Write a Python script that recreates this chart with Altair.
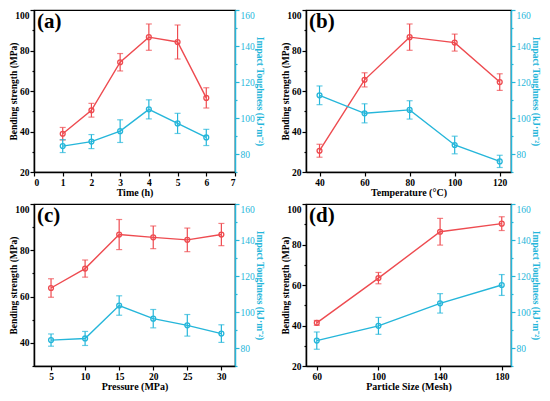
import altair as alt
import pandas as pd

FONT = "Liberation Serif"
RED = "#EE4B50"
CYAN = "#25B6DA"

# ---- panel (a): Time (h)
a_x = [1, 2, 3, 4, 5, 6]
a_bs = [38.9, 50.5, 74.2, 86.6, 84.2, 56.6]
a_bs_err = [3.1, 3.4, 4.3, 6.5, 8.4, 5.0]
a_it = [84.4, 86.9, 92.7, 104.8, 97.0, 89.2]
a_it_err = [3.6, 3.9, 6.3, 5.3, 5.6, 4.5]

# ---- panel (b): Temperature
b_x = [40, 60, 80, 100, 120]
b_bs = [30.5, 65.5, 86.6, 83.9, 64.4]
b_bs_err = [3.2, 3.5, 6.5, 4.2, 4.1]
b_it = [112.6, 102.6, 104.5, 85.0, 75.9]
b_it_err = [5.2, 5.3, 5.1, 4.9, 3.4]

# ---- panel (c): Pressure
c_x = [5, 10, 15, 20, 25, 30]
c_bs = [63.7, 72.1, 86.8, 85.6, 84.5, 86.8]
c_bs_err = [4.0, 3.7, 6.5, 4.9, 5.1, 4.8]
c_it = [84.4, 85.3, 103.6, 96.3, 92.6, 88.0]
c_it_err = [3.4, 3.9, 5.4, 5.1, 6.0, 4.9]

# ---- panel (d): Particle size
d_x = [60, 100, 140, 180]
d_bs = [41.3, 63.4, 86.3, 90.3]
d_bs_err = [1.2, 2.8, 6.6, 3.4]
d_it = [84.1, 92.3, 104.8, 115.0]
d_it_err = [4.8, 4.7, 5.4, 5.8]

LEFT_TITLE = "Bending strength (MPa)"
RIGHT_TITLE = "Impact Toughness (kJ·m⁻²)"
RIGHT_DOMAIN = [70, 160]
RIGHT_TICKS = [70, 80, 90, 100, 110, 120, 130, 140, 150, 160]

H = 162


def panel(label, xs, bs, bse, it, ite, xtitle, xdomain, xticks, ldomain, lticks, width):
    df = pd.DataFrame({
        "x": xs,
        "bs": bs,
        "bs_lo": [v - e for v, e in zip(bs, bse)],
        "bs_hi": [v + e for v, e in zip(bs, bse)],
        "it": it,
        "it_lo": [v - e for v, e in zip(it, ite)],
        "it_hi": [v + e for v, e in zip(it, ite)],
    })
    xenc = alt.X("x:Q", title=xtitle,
                 scale=alt.Scale(domain=xdomain, nice=False, zero=False),
                 axis=alt.Axis(values=xticks, title=xtitle, domainColor="black", domainWidth=1.5,
                               tickColor="black", tickWidth=1.2, tickSize=4,
                               labelColor="black", labelFontWeight="bold", labelFontSize=9.5,
                               labelPadding=1, titleColor="black", titleFontWeight="bold",
                               titleFontSize=10, titlePadding=1, grid=False))
    lmax = ldomain[1]
    left_axis = alt.Axis(values=lticks, title=LEFT_TITLE, domainColor="black", domainWidth=1.5,
                         tickColor="black", tickWidth=1.2,
                         tickSize={"condition": {"test": "datum.value % 20 != 0", "value": 2},
                                   "value": 4},
                         labelExpr="datum.value % 20 == 0 ? datum.label : ''",
                         labelBaseline={"condition": {"test": f"datum.value >= {lmax}",
                                                      "value": "top"}, "value": "middle"},
                         labelColor="black",
                         labelFontWeight="bold", labelFontSize=9.5, labelPadding=1,
                         titleColor="black", titleFontWeight="bold", titleFontSize=9.5,
                         titlePadding=-4, grid=False)
    right_axis = alt.Axis(orient="right", values=RIGHT_TICKS, title=RIGHT_TITLE,
                          domainColor=CYAN, domainWidth=1.5, tickColor=CYAN, tickWidth=1.2,
                          tickSize={"condition": {"test": "datum.value % 20 != 0", "value": 2},
                                    "value": 4},
                          labelExpr="datum.value % 20 == 0 ? datum.label : ''",
                          labelBaseline={"condition": {"test": "datum.value >= 160",
                                                       "value": "top"}, "value": "middle"},
                          labelColor=CYAN, labelFontWeight="normal", labelFontSize=9.5,
                          labelPadding=1, titleColor=CYAN, titleFontWeight="bold",
                          titleFontSize=9.5, titlePadding=0, grid=False)
    lscale = alt.Scale(domain=ldomain, nice=False, zero=False)
    rscale = alt.Scale(domain=RIGHT_DOMAIN, nice=False, zero=False)

    def series(col, color, scale, axis, title):
        base = alt.Chart(df).encode(x=xenc)
        y = lambda f: alt.Y(f"{f}:Q", scale=scale, axis=axis, title=title)
        line = base.mark_line(color=color, strokeWidth=1.4).encode(y=y(col))
        rule = base.mark_rule(color=color, strokeWidth=1.2).encode(
            y=y(f"{col}_lo"), y2=f"{col}_hi:Q")
        cap_lo = base.mark_tick(color=color, orient="horizontal", size=6, thickness=1.2).encode(
            y=y(f"{col}_lo"))
        cap_hi = base.mark_tick(color=color, orient="horizontal", size=6, thickness=1.2).encode(
            y=y(f"{col}_hi"))
        pts = base.mark_point(shape="circle", filled=False, color=color, size=24,
                              strokeWidth=1.3, opacity=1).encode(y=y(col))
        return alt.layer(line, rule, cap_lo, cap_hi, pts)

    red = series("bs", RED, lscale, left_axis, LEFT_TITLE)
    cyan = series("it", CYAN, rscale, right_axis, RIGHT_TITLE)
    txt = alt.Chart(pd.DataFrame({"t": [label]})).mark_text(
        font=FONT, fontSize=21, fontWeight="bold", align="left", baseline="top", color="black"
    ).encode(text="t:N", x=alt.value(3), y=alt.value(1))
    return alt.layer(red, cyan, txt).resolve_scale(y="independent").properties(
        width=width, height=H)


pa = panel("(a)", a_x, a_bs, a_bs_err, a_it, a_it_err, "Time (h)", [0, 7],
           [0, 1, 2, 3, 4, 5, 6, 7], [20, 100], [20, 30, 40, 50, 60, 70, 80, 90, 100], 201)
pb = panel("(b)", b_x, b_bs, b_bs_err, b_it, b_it_err, "Temperature (°C)", [34, 125],
           [40, 60, 80, 100, 120], [20, 100], [20, 30, 40, 50, 60, 70, 80, 90, 100], 205)
pc = panel("(c)", c_x, c_bs, c_bs_err, c_it, c_it_err, "Pressure (MPa)", [2.5, 32],
           [5, 10, 15, 20, 25, 30], [30, 100], [30, 40, 50, 60, 70, 80, 90, 100], 201)
pd_ = panel("(d)", d_x, d_bs, d_bs_err, d_it, d_it_err, "Particle Size (Mesh)", [53, 186],
            [60, 100, 140, 180], [20, 100], [20, 30, 40, 50, 60, 70, 80, 90, 100], 205)

chart = alt.concat(pa, pb, pc, pd_, columns=2, spacing={"row": 32, "column": 71},
                   bounds="flush").properties(
    padding={"left": 0, "top": 0, "right": 0, "bottom": 0}
).configure_view(stroke="black", strokeWidth=1.2).configure_axis(
    labelFont=FONT, titleFont=FONT, grid=False)

chart.save("out.html", embed_options={"renderer": "svg", "actions": False})
